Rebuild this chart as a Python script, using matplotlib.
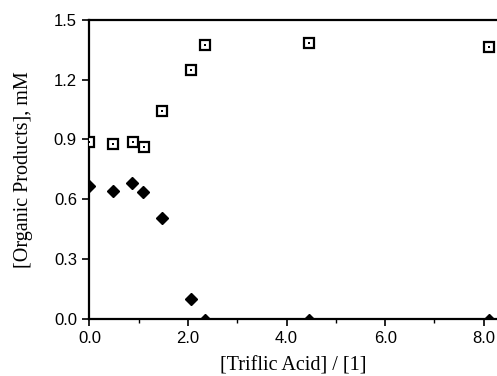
import matplotlib
matplotlib.use("Agg")
import matplotlib.pyplot as plt
from matplotlib.ticker import MultipleLocator

# Data
acid_ratio_sq = [0.0, 0.48, 0.88, 1.11, 1.48, 2.06, 2.34, 4.46, 8.11]
product_sq = [0.885, 0.877, 0.885, 0.862, 1.045, 1.248, 1.373, 1.386, 1.363]

acid_ratio_dm = [0.0, 0.47, 0.86, 1.09, 1.48, 2.06, 2.34, 4.46, 8.11]
product_dm = [0.667, 0.644, 0.684, 0.639, 0.505, 0.099, -0.006, -0.008, -0.004]

xticks = [0.0, 2.0, 4.0, 6.0, 8.0]
xtick_labels = ["0.0", "2.0", "4.0", "6.0", "8.0"]
yticks = [0.0, 0.3, 0.6, 0.9, 1.2, 1.5]
ytick_labels = ["0.0", "0.3", "0.6", "0.9", "1.2", "1.5"]

fig = plt.figure(figsize=(4.97, 3.76), dpi=100)
ax = fig.add_axes([0.180, 0.152, 0.821, 0.795])

ax.plot(acid_ratio_sq, product_sq, linestyle="none", marker="s", markersize=6.5,
        markerfacecolor="white", markeredgecolor="black", markeredgewidth=1.6,
        clip_on=True, zorder=3)
ax.plot(acid_ratio_sq, product_sq, linestyle="none", marker="s", markersize=1.6,
        markerfacecolor="black", markeredgecolor="black", markeredgewidth=0,
        clip_on=True, zorder=4)
ax.plot(acid_ratio_dm, product_dm, linestyle="none", marker="D", markersize=6.0,
        markerfacecolor="black", markeredgecolor="black", clip_on=True, zorder=3)

ax.set_xlim(0, 8.28)
ax.set_ylim(0, 1.5)

ax.set_xticks(xticks)
ax.set_xticklabels(xtick_labels)
ax.set_yticks(yticks)
ax.set_yticklabels(ytick_labels)
ax.xaxis.set_minor_locator(MultipleLocator(1.0))

for lab in ax.get_xticklabels():
    lab.set_fontfamily("Liberation Sans")
    lab.set_fontsize(12)
for lab in ax.get_yticklabels():
    lab.set_fontfamily("Liberation Sans")
    lab.set_fontsize(12)

ax.tick_params(axis="both", which="major", direction="out", length=5, width=1.2, pad=4)
ax.tick_params(axis="x", which="minor", direction="out", length=3, width=1.0)

ax.spines["right"].set_visible(False)
for s in ["left", "top", "bottom"]:
    ax.spines[s].set_linewidth(1.6)

ax.set_xlabel("[Triflic Acid] / [1]", fontfamily="Liberation Serif", fontsize=14.5, labelpad=7)
ax.set_ylabel("[Organic Products], mM", fontfamily="Liberation Serif", fontsize=14.5, labelpad=15)

fig.savefig("out.png", dpi=100)
